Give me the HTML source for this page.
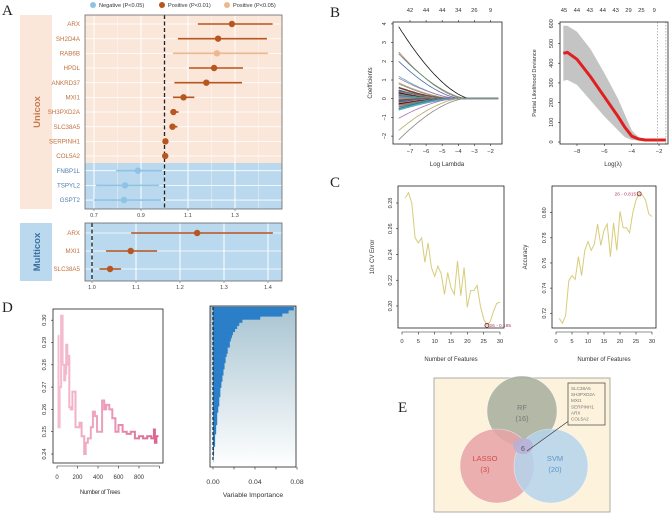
<!DOCTYPE html>
<html><head><meta charset="utf-8"><style>
html,body{margin:0;padding:0;background:#fff;}
svg{display:block;font-family:"Liberation Sans",sans-serif;}
.ser{font-family:"Liberation Serif",serif;}
</style></head><body>
<svg id="fig" width="669" height="513" viewBox="0 0 669 513" xmlns="http://www.w3.org/2000/svg">
<defs>
<linearGradient id="impBg" x1="0" y1="0" x2="0" y2="1"><stop offset="0" stop-color="#a7c4d1"/><stop offset="1" stop-color="#ffffff"/></linearGradient>
<linearGradient id="treeGrad" x1="0" y1="0" x2="1" y2="0"><stop offset="0" stop-color="#f5bdd0"/><stop offset="0.5" stop-color="#eb9ab8"/><stop offset="1" stop-color="#d9648f"/></linearGradient>
</defs>
</svg>
<script>
// ---------- Panel A data ----------
const uniGenes = ["ARX","SH2D4A","RAB6B","HPDL","ANKRD37","MXI1","SH3PXD2A","SLC38A5","SERPINH1","COL5A2","FNBP1L","TSPYL2","GSPT2"];
const uniHR = [1.287,1.228,1.223,1.211,1.178,1.081,1.038,1.034,1.004,1.003,0.887,0.832,0.828];
const uniLow = [1.142,1.057,1.036,1.104,1.042,1.036,1.025,1.022,0.996,0.996,0.794,0.709,0.700];
const uniHigh = [1.460,1.436,1.440,1.334,1.330,1.127,1.060,1.055,1.016,1.014,0.990,0.977,0.985];
const uniType = ["pos01","pos01","pos05","pos01","pos01","pos01","pos01","pos01","pos01","pos01","neg","neg","neg"];
const uniTicks = [0.7,0.9,1.1,1.3];
const multiGenes = ["ARX","MXI1","SLC38A5"];
const multiHR = [1.239,1.088,1.041];
const multiLow = [1.089,1.032,1.017];
const multiHigh = [1.411,1.148,1.066];
const multiTicks = [1.0,1.1,1.2,1.3,1.4];
// ---------- Panel B data ----------
const coefStart = [3.85,2.5,2.4,2.0,1.2,1.1,0.85,0.8,0.6,0.45,0.4,0.35,0.3,0.25,0.2,0.15,0.1,0.05,0.0,-0.05,-0.1,-0.15,-0.2,-0.25,-0.3,-0.35,-0.45,-0.55,-0.6,-1.05,-1.7,-2.2];
const coefZero = [-3.2,-3.6,-3.4,-3.8,-4.0,-3.9,-4.2,-4.4,-4.6,-4.8,-5.0,-4.7,-5.2,-5.5,-5.0,-5.8,-6.0,-6.5,-6.8,-6.2,-5.6,-5.3,-5.1,-4.9,-4.5,-4.3,-4.6,-4.4,-4.1,-4.2,-3.9,-3.6];
const lassoTicks = [-7,-6,-5,-4,-3,-2];
const lassoTop = ["42","44","44","34","26","9"];
const cvLogL = [-9,-8.7,-8,-7,-6,-5,-4.5,-4,-3.5,-3,-2,-1.5];
const cvMean = [450,455,420,330,230,130,75,30,15,10,10,10];
const cvUpper = [590,590,560,470,350,220,140,60,25,15,15,15];
const cvLower = [310,315,290,210,130,60,25,10,8,6,6,6];
const cvTopLab = ["45","44","43","44","43","29","25","9"];
const cvYTicks = [0,100,200,300,400,500,600];
const cvXTicks = [-8,-6,-4,-2];
// ---------- Panel C data ----------
const nFeat = [1,2,3,4,5,6,7,8,9,10,11,12,13,14,15,16,17,18,19,20,21,22,23,24,25,26,27,28,29,30];
const cvErr = [0.284,0.288,0.280,0.253,0.249,0.253,0.234,0.249,0.230,0.223,0.231,0.225,0.209,0.226,0.214,0.209,0.235,0.208,0.230,0.199,0.212,0.212,0.216,0.200,0.190,0.185,0.188,0.196,0.202,0.203];
const accVals = [0.716,0.712,0.718,0.746,0.750,0.747,0.765,0.750,0.770,0.777,0.770,0.775,0.791,0.774,0.786,0.791,0.765,0.792,0.770,0.801,0.788,0.788,0.784,0.800,0.810,0.815,0.814,0.810,0.799,0.797];
const featTicks = [0,5,10,15,20,25,30];
const errTicks = [0.20,0.22,0.24,0.26,0.28];
const accTicks = [0.72,0.74,0.76,0.78,0.80];
// ---------- Panel D data ----------
const treeN = [10,15,25,40,55,70,80,90,100,110,120,135,150,165,180,200,220,240,265,280,300,330,350,370,390,410,440,460,480,510,540,570,600,640,680,720,760,800,840,880,920,945,955,970,990];
const treeErr = [0.293,0.252,0.270,0.302,0.280,0.273,0.276,0.289,0.280,0.284,0.261,0.260,0.268,0.268,0.252,0.252,0.254,0.248,0.240,0.245,0.247,0.252,0.259,0.257,0.250,0.250,0.264,0.260,0.262,0.260,0.256,0.250,0.253,0.250,0.249,0.250,0.247,0.248,0.247,0.248,0.247,0.251,0.245,0.248,0.248];
const treeTicks = [0,200,400,600,800];
const treeYTicks = [0.24,0.25,0.26,0.27,0.28,0.29,0.30];
const importance = [0.077,0.072,0.066,0.045,0.028,0.025,0.023,0.021,0.019,0.018,0.017,0.016,0.016,0.014,0.014,0.013,0.012,0.012,0.011,0.011,0.010,0.010,0.009,0.009,0.008,0.008,0.007,0.007,0.007,0.006,0.006,0.006,0.005,0.005,0.004,0.004,0.004,0.004,0.003,0.003,0.003,0.002,0.002,0.002,0.002,0.001,0.001,0.001,0.0005,0.0002];
const impTicks = [0.00,0.04,0.08];
const impMinor = [0.00,0.02,0.04,0.06,0.08];
// ---------- Panel E data ----------
const vennSets = ["RF","LASSO","SVM"];
const vennCounts = ["16","3","20"];
const vennShared = "6";
const sharedGenes = ["SLC38A5","SH3PXD2A","MXI1","SERPINH1","ARX","COL5A2"];

const svg = document.getElementById('fig');
const NS = "http://www.w3.org/2000/svg";
function mk(tag, attrs, parent){
  const e = document.createElementNS(NS, tag);
  for (const k in attrs) e.setAttribute(k, attrs[k]);
  (parent||svg).appendChild(e);
  return e;
}
function txt(x,y,s,size,fill,anchor,parent,rot){
  const t = mk('text',{x:x,y:y,'font-size':size,fill:fill,'text-anchor':anchor||'middle'},parent);
  if (rot) t.setAttribute('transform','rotate('+rot+' '+x+' '+y+')');
  t.textContent = s;
  return t;
}
let e;

// ===== Panel A =====
const gA = mk('g',{});


const colMap = {pos01:'#b8561f', pos05:'#eab98f', neg:'#8fc3e6'};
const labMap = {pos01:'#c0703c', pos05:'#c0703c', neg:'#4e7fae'};
const legItems = [["Negative (P<0.05)",'#8fc3e6',93],["Positive (P<0.01)",'#b8561f',162],["Positive (P<0.05)",'#eab98f',227]];
legItems.forEach((L,i)=>{
  const g = mk('g',{},gA);
  
  
  mk('circle',{cx:L[2],cy:5,r:3,fill:L[1]},g);
  txt(L[2]+6,7.2,L[0],5.6,'#333','start',g);
});
const ax = v => 94 + (v-0.7)*235;
const rowY = i => 24 + i*14.67;
e = mk('rect',{x:20,y:15,width:32,height:194,fill:'#fbe6da'},gA);


e = txt(40,112,'Unicox',9.5,'#c87a4c','middle',gA,-90);
e.setAttribute('font-weight','bold');


e = mk('rect',{x:85,y:15,width:197,height:148,fill:'#fbe6da'},gA);


e = mk('rect',{x:85,y:163,width:197,height:46,fill:'#bad8ee'},gA);


uniTicks.forEach(t=>{ mk('line',{x1:ax(t),x2:ax(t),y1:15,y2:209,stroke:'#fff','stroke-width':1},gA); });
[0.8,1.0,1.2,1.4].forEach(t=>{ mk('line',{x1:ax(t),x2:ax(t),y1:15,y2:209,stroke:'#fff','stroke-width':0.5,opacity:0.7},gA); });
uniGenes.forEach((g,i)=>{ mk('line',{x1:85,x2:282,y1:rowY(i),y2:rowY(i),stroke:'#fff','stroke-width':0.8},gA); });
e = mk('line',{x1:ax(1),x2:ax(1),y1:15,y2:209,stroke:'#222','stroke-width':1.3,'stroke-dasharray':'4,2.5'},gA);


uniGenes.forEach((g,i)=>{
  const grp = mk('g',{},gA);
  
  
  const c = colMap[uniType[i]];
  mk('line',{x1:ax(uniLow[i]),x2:ax(uniHigh[i]),y1:rowY(i),y2:rowY(i),stroke:c,'stroke-width':1.6},grp);
  mk('circle',{cx:ax(uniHR[i]),cy:rowY(i),r:3.2,fill:c},grp);
  txt(80,rowY(i)+2.2,g,6.2,labMap[uniType[i]],'end',grp);
});
e = mk('rect',{x:85,y:15,width:197,height:194,fill:'none',stroke:'#666','stroke-width':0.8},gA);


uniTicks.forEach(t=>{
  mk('line',{x1:ax(t),x2:ax(t),y1:209,y2:211,stroke:'#666','stroke-width':0.6},gA);
  e = txt(ax(t),217,t.toFixed(1),5.5,'#444','middle',gA);
  
  
});
const mx = v => 92 + (v-1.0)*440;
const mrow = i => 233 + i*18;
e = mk('rect',{x:20,y:223,width:32,height:58,fill:'#bad8ee'},gA);


e = txt(40,252,'Multicox',9.5,'#3b6fa0','middle',gA,-90);
e.setAttribute('font-weight','bold');


e = mk('rect',{x:85,y:223,width:197,height:58,fill:'#bad8ee'},gA);


multiTicks.forEach(t=>{ mk('line',{x1:mx(t),x2:mx(t),y1:223,y2:281,stroke:'#fff','stroke-width':1},gA); });
multiGenes.forEach((g,i)=>{ mk('line',{x1:85,x2:282,y1:mrow(i),y2:mrow(i),stroke:'#fff','stroke-width':0.8},gA); });
e = mk('line',{x1:mx(1),x2:mx(1),y1:223,y2:281,stroke:'#222','stroke-width':1.3,'stroke-dasharray':'4,2.5'},gA);


multiGenes.forEach((g,i)=>{
  const grp = mk('g',{},gA);
  
  
  mk('line',{x1:mx(multiLow[i]),x2:mx(multiHigh[i]),y1:mrow(i),y2:mrow(i),stroke:'#b8561f','stroke-width':1.6},grp);
  mk('circle',{cx:mx(multiHR[i]),cy:mrow(i),r:3.2,fill:'#b8561f'},grp);
  txt(80,mrow(i)+2.2,g,6.2,'#c0703c','end',grp);
});
e = mk('rect',{x:85,y:223,width:197,height:58,fill:'none',stroke:'#666','stroke-width':0.8},gA);


multiTicks.forEach(t=>{
  mk('line',{x1:mx(t),x2:mx(t),y1:281,y2:283,stroke:'#666','stroke-width':0.6},gA);
  e = txt(mx(t),289,t.toFixed(1),5.5,'#444','middle',gA);
  
  
});

// ===== Panel B left =====
const gB = mk('g',{});


const lx = l => 410 + (l+7)*16.1;
const ly = c => 98.7 - c*18.7;
const pal = ['#111','#c86a7a','#4a9a72','#5068b0','#50b0b8','#b070b0','#b8a860','#888','#7a3d3d','#3d7a6a','#5a5aa0','#c08080'];
coefStart.forEach((c0,i)=>{
  const z = coefZero[i]; let d='';
  for (let l=-7.7; l<=-1.5; l+=0.1){
    const f = l<z ? Math.pow((z-l)/(z+7.7),1.6) : 0;
    d += (d?'L':'M')+lx(l).toFixed(1)+','+ly(c0*f).toFixed(1);
  }
  e = mk('path',{d:d,fill:'none',stroke:pal[i%pal.length],'stroke-width':(Math.abs(c0)<0.7?1.6:0.8)},gB);
  
  
});
e = mk('rect',{x:393,y:22,width:109,height:122,fill:'none',stroke:'#222','stroke-width':0.8},gB);


[-2,-1,0,1,2,3,4].forEach(t=>{
  mk('line',{x1:391,x2:393,y1:ly(t),y2:ly(t),stroke:'#222','stroke-width':0.6},gB);
  txt(386,ly(t),String(t).replace('-','−'),5.5,'#333','middle',gB,-90);
});
lassoTicks.forEach((t,i)=>{
  mk('line',{x1:lx(t),x2:lx(t),y1:144,y2:146,stroke:'#222','stroke-width':0.6},gB);
  txt(lx(t),153,String(t).replace('-','−'),5.8,'#333','middle',gB);
  mk('line',{x1:lx(t),x2:lx(t),y1:20,y2:22,stroke:'#222','stroke-width':0.6},gB);
  txt(lx(t),12,lassoTop[i],5.8,'#333','middle',gB);
});
e = txt(447,166,'Log Lambda',6.2,'#333','middle',gB);


e = txt(372,83,'Coefficients',6,'#333','middle',gB,-90);



// ===== Panel B right =====
const gB2 = mk('g',{});


const cx_ = l => 577 + (l+8)*13.67;
const cy_ = v => 142 - v*0.197;
let poly='';
cvLogL.forEach((l,i)=>{ poly += cx_(l).toFixed(1)+','+cy_(cvUpper[i]).toFixed(1)+' '; });
for (let i=cvLogL.length-1;i>=0;i--) poly += cx_(cvLogL[i]).toFixed(1)+','+cy_(cvLower[i]).toFixed(1)+' ';
e = mk('polygon',{points:poly,fill:'#c4c4c4'},gB2);


let dm='';
cvLogL.forEach((l,i)=>{ dm += (dm?'L':'M')+cx_(l).toFixed(1)+','+cy_(cvMean[i]).toFixed(1); });
e = mk('path',{d:dm,fill:'none',stroke:'#e02020','stroke-width':3},gB2);


[-2.1,-1.5].forEach(l=>{ mk('line',{x1:cx_(l),x2:cx_(l),y1:22,y2:144,stroke:'#888','stroke-width':0.6,'stroke-dasharray':'1.5,1.5'},gB2); });
e = mk('rect',{x:560,y:22,width:108,height:122,fill:'none',stroke:'#222','stroke-width':0.8},gB2);


cvYTicks.forEach(t=>{
  mk('line',{x1:558,x2:560,y1:cy_(t),y2:cy_(t),stroke:'#222','stroke-width':0.6},gB2);
  txt(553,cy_(t),String(t),5.5,'#333','middle',gB2,-90);
});
cvXTicks.forEach(t=>{
  mk('line',{x1:cx_(t),x2:cx_(t),y1:144,y2:146,stroke:'#222','stroke-width':0.6},gB2);
  txt(cx_(t),153,String(t).replace('-','−'),5.8,'#333','middle',gB2);
});
cvTopLab.forEach((s,i)=>{ txt(564+i*12.9,12,s,5.8,'#333','middle',gB2); });
e = txt(613,166,'Log(λ)',6.2,'#333','middle',gB2);


e = txt(536,83,'Partial Likelihood Deviance',5.6,'#333','middle',gB2,-90);



// ===== Panel C =====
function featPlot(name, x0, x1, vals, ticks, yRef, vRef, ppu, ylab, ylabX, best, bestLab, labOffset){
  const g = mk('g',{});
  
  
  const fx = f => x0+4 + f*(x1-x0-8)/30;
  const fy = v => yRef - (v-vRef)*ppu;
  let d='';
  nFeat.forEach((f,i)=>{ d += (d?'L':'M')+fx(f).toFixed(1)+','+fy(vals[i]).toFixed(1); });
  e = mk('path',{d:d,fill:'none',stroke:'#d8cc7a','stroke-width':1},g);
  
  
  e = mk('circle',{cx:fx(nFeat[best]),cy:fy(vals[best]),r:2,fill:'none',stroke:'#8b2a3a','stroke-width':0.9},g);
  
  
  txt(fx(nFeat[best])+labOffset[0],fy(vals[best])+labOffset[1],bestLab,4.8,'#b04060',labOffset[2],g);
  mk('rect',{x:x0,y:186,width:x1-x0,height:142,fill:'none',stroke:'#222','stroke-width':0.8},g);
  mk('line',{x1:fx(0),x2:fx(30),y1:332,y2:332,stroke:'#222','stroke-width':0.6},g);
  featTicks.forEach(t=>{
    mk('line',{x1:fx(t),x2:fx(t),y1:332,y2:334.5,stroke:'#222','stroke-width':0.6},g);
    txt(fx(t),343,String(t),5.8,'#333','middle',g);
  });
  ticks.forEach(t=>{
    mk('line',{x1:x0-2,x2:x0,y1:fy(t),y2:fy(t),stroke:'#222','stroke-width':0.6},g);
    txt(x0-6,fy(t),t.toFixed(2),5.5,'#333','middle',g,-90);
  });
  txt((x0+x1)/2,361,'Number of Features',6,'#333','middle',g);
  txt(ylabX,257,ylab,6,'#333','middle',g,-90);
}
featPlot('panel-c-cv-error',398,504,cvErr,errTicks,203,0.28,1287.5,'10x CV Error',374,25,'26 - 0.185',[2.5,1.8,'start']);
featPlot('panel-c-accuracy',552,656,accVals,accTicks,212.7,0.80,1257,'Accuracy',527,25,'26 - 0.815',[-3,1.8,'end']);

// ===== Panel D left =====
const gD = mk('g',{});


const tx = n => 57 + n*0.1025;
const ty = v => 454 - (v-0.24)*2230;
let dt='';
treeN.forEach((n,i)=>{
  if (!dt) dt='M'+tx(n).toFixed(1)+','+ty(treeErr[i]).toFixed(1);
  else dt += 'H'+tx(n).toFixed(1)+'V'+ty(treeErr[i]).toFixed(1);
});
e = mk('path',{d:dt,fill:'none',stroke:'url(#treeGrad)','stroke-width':2},gD);


e = mk('rect',{x:53,y:309,width:110,height:154,fill:'none',stroke:'#222','stroke-width':0.8},gD);


treeYTicks.forEach(t=>{
  mk('line',{x1:51,x2:53,y1:ty(t),y2:ty(t),stroke:'#222','stroke-width':0.6},gD);
  txt(46,ty(t),t.toFixed(2),5.8,'#333','middle',gD,-90);
});
mk('line',{x1:tx(0),x2:tx(1000),y1:466,y2:466,stroke:'#222','stroke-width':0.6},gD);
treeTicks.concat([1000]).forEach(t=>{ mk('line',{x1:tx(t),x2:tx(t),y1:466,y2:468.5,stroke:'#222','stroke-width':0.6},gD); });
treeTicks.forEach(t=>{ txt(tx(t),479,String(t),6,'#333','middle',gD); });
e = txt(100,494,'Number of Trees',6,'#333','middle',gD);
e.setAttribute('letter-spacing','-0.3');



// ===== Panel D right =====
const gI = mk('g',{});


const ix = v => 213 + v*1050;
e = mk('rect',{x:210,y:306,width:86,height:161,fill:'url(#impBg)'},gI);


const bh = 155/importance.length;
importance.forEach((v,i)=>{
  e = mk('rect',{x:ix(0),y:(307+i*bh).toFixed(2),width:Math.max(0.3,ix(v)-ix(0)).toFixed(2),height:(bh+0.3).toFixed(2),fill:'#2a7fc8'},gI);
  
  
});
mk('line',{x1:ix(0),x2:ix(0),y1:307,y2:462,stroke:'#222','stroke-width':1.2,'stroke-dasharray':'3,2'},gI);
e = mk('rect',{x:210,y:306,width:86,height:161,fill:'none',stroke:'#222','stroke-width':0.8},gI);


impMinor.forEach(t=>{ mk('line',{x1:ix(t),x2:ix(t),y1:467,y2:469.5,stroke:'#222','stroke-width':0.6},gI); });
impTicks.forEach(t=>{ txt(ix(t),484,t.toFixed(2),6.8,'#333','middle',gI); });
e = txt(253,497,'Variable Importance',6.8,'#333','middle',gI);



// ===== Panel E =====
const gE = mk('g',{});


e = mk('rect',{x:434,y:378,width:176,height:134,fill:'#fdf2dc',stroke:'#999','stroke-width':0.8},gE);


const circ = [[522,411,35,'#a7ae9d','#777'],[497,466,37,'#e9a3a8','#d24a4a'],[551,466,37,'#b4d3ec','#5b95cc']];
const labPos = [[522,410],[485,461],[555,461]];
circ.forEach((c,i)=>{
  e = mk('circle',{cx:c[0],cy:c[1],r:c[2],fill:c[3],'fill-opacity':0.85,stroke:'#fff','stroke-width':0.6,'stroke-opacity':0.6},gE);
  
  
});
e = mk('ellipse',{cx:523,cy:446,rx:10,ry:8,fill:'#b7b0d6','fill-opacity':0.85},gE);


vennSets.forEach((s,i)=>{
  const col = circ[i][4];
  e = txt(labPos[i][0],labPos[i][1],s,7.5,col,'middle',gE);
  
  
  e = txt(labPos[i][0],labPos[i][1]+11,'('+vennCounts[i]+')',7.5,col,'middle',gE);
  
  
});
e = txt(523,451,vennShared,7,'#555','middle',gE);


mk('line',{x1:527,y1:451,x2:570,y2:420,stroke:'#333','stroke-width':0.7},gE);
e = mk('rect',{x:568,y:383,width:37,height:42,fill:'#fdf2dc',stroke:'#555','stroke-width':0.8},gE);


sharedGenes.forEach((g,i)=>{ txt(571,390+i*6.1,g,4.6,'#777','start',gE); });

// panel letters (drawn last)
const letters = [["A",2,15],["B",330,17],["C",330,187],["D",2,312],["E",398,412]];
letters.forEach(l=>{
  e = txt(l[1],l[2],l[0],15,'#222','start',svg);
  e.setAttribute('class','ser');
  
  
});
</script>
</body></html>
